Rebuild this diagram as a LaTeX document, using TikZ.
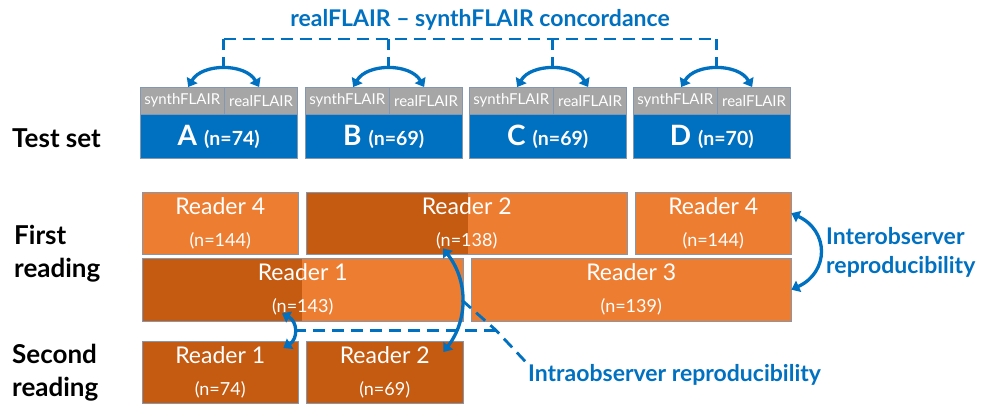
\documentclass[tikz,border=0pt]{standalone}
\usepackage{fontspec}
\setmainfont{Lato}
\usetikzlibrary{arrows.meta,backgrounds,positioning}
\definecolor{flairblue}{HTML}{0070C0}
\definecolor{lightor}{HTML}{ED7D31}
\definecolor{darkor}{HTML}{C55A11}
\definecolor{hdrgray}{HTML}{A6A6A6}
\definecolor{edgegray}{HTML}{8497B0}
\newcommand{\rdrtext}[2]{{\fontsize{23}{32}\selectfont #1}\\{\fontsize{18}{32}\selectfont(n=#2)}}

\begin{document}
\begin{tikzpicture}[x=1pt,y=-1pt,
  every node/.style={inner sep=0pt},
  hdr/.style={draw=edgegray,fill=hdrgray,text=white,minimum height=27pt,
    font=\fontsize{15}{18}\selectfont,anchor=north west},
  setbox/.style={draw=edgegray,fill=flairblue,text=white,minimum height=44pt,
    minimum width=157pt,anchor=north west},
  rdr/.style={draw=edgegray,text=white,align=center,anchor=north west,
    font=\fontsize{18}{32}\selectfont},
  lbl/.style={font=\fontsize{26}{33}\selectfont\bfseries,align=left,anchor=west},
  note/.style={text=flairblue,font=\fontsize{23}{29}\selectfont\bfseries,align=left},
  dbl/.style={flairblue,line width=3.3pt,
    {Triangle[width=12pt,length=8pt]}-{Triangle[width=12pt,length=8pt]}},
  lead/.style={flairblue,line width=2.8pt,dash pattern=on 12pt off 7pt}]
\useasboundingbox (0,0) rectangle (982,405);

% test set
\node[lbl] (test) at (12,138) {Test set};
\node[note,anchor=center] (title) at (480,20) {realFLAIR – synthFLAIR concordance};
\coordinate (bar) at (0,39);
\foreach \s/\x/\n in {A/140/74,B/305/69,C/469/69,D/633/70} {
  \node[hdr,minimum width=84pt] (s\s) at (\x,87) {synthFLAIR};
  \node[hdr,minimum width=73pt] (r\s) at (s\s.north east) {realFLAIR};
  \node[setbox] (set\s) at (s\s.south west)
    {{\fontsize{28}{30}\selectfont\bfseries\s}\hspace{7pt}{\fontsize{19.5}{22}\selectfont\bfseries(n=\n)}};
  \draw[dbl] ([xshift=6pt]s\s.north) to[bend left=60] coordinate[pos=0.5] (m\s) ([xshift=-2pt]r\s.north);
  \draw[lead] (m\s) -- (m\s |- bar);
}
\draw[lead] (mA |- bar) -- (mD |- bar);

% first reading
\node[lbl] (first) at (14,254) {First\\reading};
\node[rdr,minimum width=156pt,minimum height=62pt] (r4a) at (142,192) {\rdrtext{Reader 4}{144}};
\node[rdr,minimum width=321pt,minimum height=62pt] (r2a) at (306,192) {\rdrtext{Reader 2}{138}};
\node[rdr,minimum width=156pt,minimum height=62pt] (r4b) at (635,192) {\rdrtext{Reader 4}{144}};
\node[rdr,minimum width=321pt,minimum height=63pt] (r1a) at (142,258) {\rdrtext{Reader 1}{143}};
\node[rdr,minimum width=320pt,minimum height=63pt] (r3) at (471,258) {\rdrtext{Reader 3}{139}};

% second reading
\node[lbl] (second) at (12,373) {Second\\reading};
\node[rdr,minimum width=156pt,minimum height=62pt] (r1b) at (142,341) {\rdrtext{Reader 1}{74}};
\node[rdr,minimum width=157pt,minimum height=62pt] (r2b) at (306,341) {\rdrtext{Reader 2}{69}};

\begin{pgfonlayer}{background}
\foreach \b in {r4a,r2a,r4b,r1a,r3}
  \fill[lightor] (\b.north west) rectangle (\b.south east);
\foreach \b in {r1b,r2b}
  \fill[darkor] (\b.north west) rectangle (\b.south east);
\fill[darkor] (r2a.north west) rectangle ([xshift=162pt]r2a.south west);
\fill[darkor] (r1a.north west) rectangle ([xshift=160pt]r1a.south west);
\end{pgfonlayer}

% interobserver
\draw[dbl] ([yshift=10pt]r4b.east) to[out=-25,in=25,looseness=1.4] (r3.east);
\node[note,anchor=west] (inter) at (826,252) {Interobserver\\reproducibility};

% intraobserver
\draw[dbl] ([shift={(140pt,8pt)}]r1a.south west) to[bend left=60,looseness=1.3]
  coordinate[pos=0.5] (mid1) ([shift={(-15pt,-7pt)}]r1b.north east);
\draw[dbl] ([shift={(137pt,6pt)}]r2a.south west) to[bend left=38]
  coordinate[pos=0.5] (mid2) ([shift={(-20pt,-11pt)}]r2b.north east);
\node[note,anchor=west] (intra) at (528,375) {Intraobserver reproducibility};
\coordinate (jx) at (496,0);
\coordinate (jn) at (mid1 -| jx);
\draw[lead] (mid1) -- (jn);
\draw[lead] (mid2) -- (jn) -- (intra.north west);
\end{tikzpicture}
\end{document}
